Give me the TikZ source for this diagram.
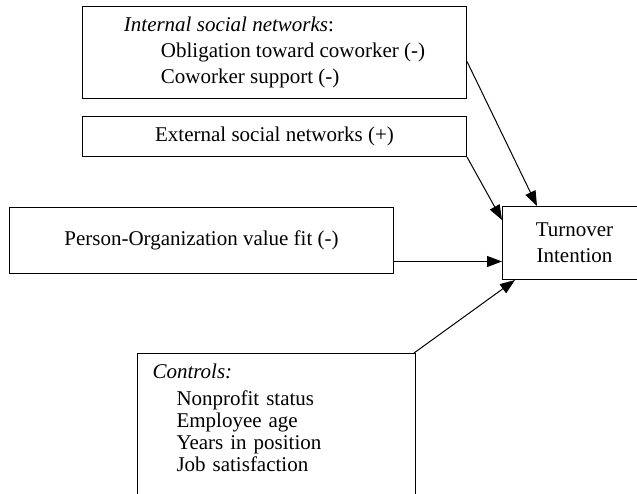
\documentclass[tikz,border=0pt]{standalone}
\usepackage{fontspec}
\setmainfont{Liberation Serif}
\usetikzlibrary{positioning, arrows.meta, calc}

\tikzset{
  box/.style={draw, line width=1pt, rectangle, inner sep=0pt, anchor=north west,
    font=\fontsize{21}{26}\selectfont},
  link/.style={line width=1pt, -{Triangle[length=15pt, width=11pt]}}
}

\begin{document}
\begin{tikzpicture}[x=1pt, y=-1pt]
    \useasboundingbox (0,0) rectangle (637,494);
    \clip (0,0) rectangle (637,494);

    % Predictor boxes
    \node[box, minimum width=384pt, minimum height=92pt, align=left] (internal) at (82,6)
      {\textit{Internal social networks}:\\
       \hspace*{37pt}Obligation toward coworker (-)\\
       \hspace*{37pt}Coworker support (-)};
    \node[box, minimum width=384pt, minimum height=40pt] (external) at (82,116)
      {External social networks (+)};
    \node[box, minimum width=384pt, minimum height=66pt] (fit) at (9,207)
      {Person-Organization value fit (-)};

    % Outcome (runs off the right edge)
    \node[box, minimum width=144pt, minimum height=73pt, align=center] (turnover) at (502,206)
      {Turnover\\Intention};

    % Controls
    \node[box, text width=248pt, inner xsep=15pt, inner ysep=10pt, align=left,
      font=\fontsize{21}{22}\selectfont] (controls) at (137,353)
      {\textit{Controls:}\\[5pt]
       \hspace*{24pt}Nonprofit status\\
       \hspace*{24pt}Employee age\\
       \hspace*{24pt}Years in position\\
       \hspace*{24pt}Job satisfaction\rule[-40pt]{0pt}{40pt}};

    % Paths
    \draw[link] ([yshift=-9pt]internal.east) -- ([xshift=35pt]turnover.north west);
    \draw[link] (external.south east) -- ([yshift=-14pt]turnover.north west);
    \draw[link] ([yshift=-21pt]fit.east) -- ([yshift=-21pt]fit.east -| turnover.west);
    \draw[link] ([xshift=-2pt]controls.north east) -- ([xshift=13pt]turnover.south west);
  \end{tikzpicture}
\end{document}
